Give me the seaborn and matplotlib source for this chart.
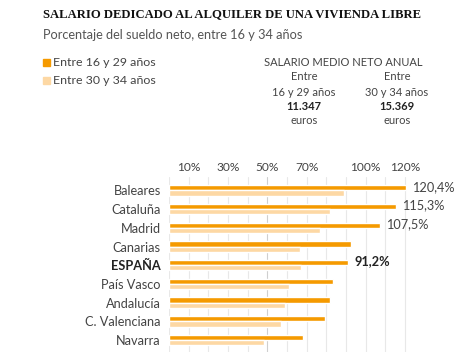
import matplotlib
matplotlib.use("Agg")
import matplotlib.pyplot as plt
import seaborn as sns
import pandas as pd

regions = ["Baleares", "Cataluña", "Madrid", "Canarias", "ESPAÑA",
           "País Vasco", "Andalucía", "C. Valenciana", "Navarra"]
young = [120.4, 115.3, 107.5, 92.5, 91.2, 83.6, 82.0, 79.3, 68.1]
older = [88.8, 82.0, 76.6, 66.4, 67.1, 61.0, 59.2, 57.1, 48.1]
groups = ["Entre 16 y 29 años", "Entre 30 y 34 años"]
tick_vals = [10, 30, 50, 70, 100, 120]
tick_labels = ["10%", "30%", "50%", "70%", "100%", "120%"]
value_labels = {"Baleares": "120,4%", "Cataluña": "115,3%", "Madrid": "107,5%", "ESPAÑA": "91,2%"}

df = pd.DataFrame({
    "region": regions * 2,
    "pct": young + older,
    "grupo": [groups[0]] * len(regions) + [groups[1]] * len(regions),
})

sns.set_theme(style="white")
plt.rcParams["font.family"] = ["Lato", "DejaVu Sans"]

W, H = 470, 352
fig = plt.figure(figsize=(W / 100, H / 100), dpi=100)
ax = fig.add_axes([169 / W, 0, 1 - 169 / W, 1 - 177 / H])

dark = "#F59A00"
light = "#FDD8A4"
txt = "#444444"

for v in range(0, 121, 10):
    ax.axvline(v, color="#cfcfcf" if v == 50 else "#e8e8e8", lw=0.8, zorder=0)

sns.barplot(data=df, y="region", x="pct", hue="grupo", orient="h",
            palette=[dark, light], width=0.56, saturation=1, ax=ax,
            legend=False, zorder=3)

ax.set_xlim(0, 153)
ax.set_ylim(8.64, -0.72)
ax.set_xlabel("")
ax.set_ylabel("")
for s in ax.spines.values():
    s.set_visible(False)

ax.xaxis.tick_top()
ax.set_xticks(tick_vals)
ax.set_xticklabels(tick_labels, fontsize=8.6, color=txt)
ax.tick_params(axis="x", length=0, pad=3)
ax.tick_params(axis="y", length=0, pad=6)
ax.set_yticks(range(len(regions)))
ax.set_yticklabels(regions, fontsize=9.2, color=txt)
for lab in ax.get_yticklabels():
    if lab.get_text() == "ESPAÑA":
        lab.set_fontweight("bold")
        lab.set_color("#222222")

for i, r in enumerate(regions):
    if r in value_labels:
        bold = r == "ESPAÑA"
        ax.text(young[i] + 3, i - 0.2, value_labels[r], fontsize=9.2,
                color="#222222" if bold else txt,
                fontweight="bold" if bold else "normal", va="center", ha="left")

def fx(px):
    return px / W

def fy(py):
    return 1 - py / H

fig.text(fx(232), fy(14), "SALARIO DEDICADO AL ALQUILER DE UNA VIVIENDA LIBRE",
         family=["Liberation Serif"], fontweight="bold", fontsize=9.1,
         ha="center", va="center", color="#111111")
fig.text(fx(43), fy(35), "Porcentaje del sueldo neto, entre 16 y 34 años",
         fontsize=9.2, ha="left", va="center", color="#555555")

for j, (g, c) in enumerate(zip(groups, [dark, light])):
    y = 62 + j * 18
    fig.patches.append(plt.Rectangle((fx(43), fy(y + 3.5)), 7 / W, 7 / H,
                                     transform=fig.transFigure, color=c, figure=fig))
    fig.text(fx(53), fy(y), g, fontsize=8.9, ha="left", va="center", color=txt)

fig.text(fx(343), fy(63), "SALARIO MEDIO NETO ANUAL", fontsize=8,
         ha="center", va="center", color=txt)
cols = [(304, "16 y 29 años", "11.347"), (397, "30 y 34 años", "15.369")]
for x, rng, sal in cols:
    fig.text(fx(x), fy(77), "Entre", fontsize=8, ha="center", va="center", color=txt)
    fig.text(fx(x), fy(92), rng, fontsize=8, ha="center", va="center", color=txt)
    fig.text(fx(x), fy(107), sal, fontsize=8, fontweight="bold", ha="center",
             va="center", color="#222222")
    fig.text(fx(x), fy(121), "euros", fontsize=8, ha="center", va="center", color=txt)

fig.savefig("out.png", dpi=100)
